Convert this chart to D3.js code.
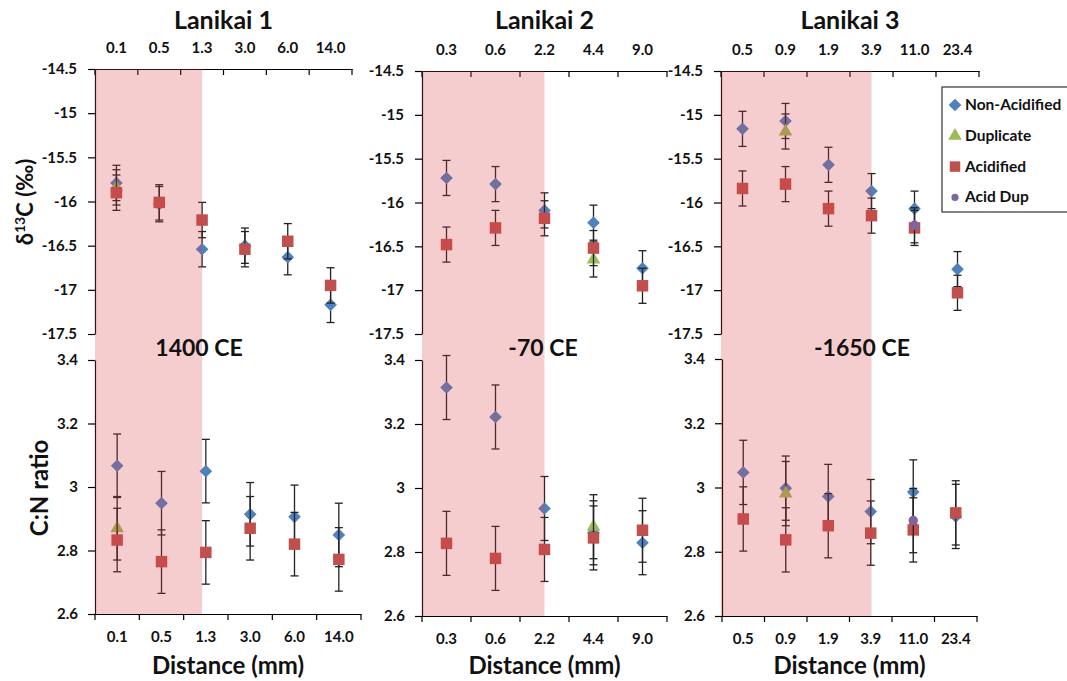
<!DOCTYPE html>
<html>
<head>
<meta charset="utf-8">
<script src="https://cdn.jsdelivr.net/npm/d3@7"></script>
<style>
  body { margin: 0; background: #fff; }
  svg { display: block; font-family: Lato, "Open Sans", "DejaVu Sans", sans-serif; }
</style>
</head>
<body>
<svg id="chart" width="1067" height="681"></svg>
<script>
// ---- data ----
const sites = ["Lanikai 1", "Lanikai 2", "Lanikai 3"];
const ages = ["1400 CE", "-70 CE", "-1650 CE"];

const cats1 = ["0.1", "0.5", "1.3", "3.0", "6.0", "14.0"];
const cats2 = ["0.3", "0.6", "2.2", "4.4", "9.0"];
const cats3 = ["0.5", "0.9", "1.9", "3.9", "11.0", "23.4"];
// last distance inside the shaded band
const shadeEnd = ["1.3", "2.2", "3.9"];

const d13cNon1 = [-15.79, -16.03, -16.54, -16.50, -16.63, -17.17];
const d13cAcid1 = [-15.90, -16.01, -16.21, -16.54, -16.45, -16.95];
const d13cDup1 = [-15.84, null, null, null, null, null];
const d13cAcidDup1 = [null, null, null, null, null, null];
const cnNon1 = [3.067, 2.949, 3.050, 2.914, 2.906, 2.849];
const cnAcid1 = [2.833, 2.765, 2.794, 2.870, 2.820, 2.772];
const cnDup1 = [2.870, null, null, null, null, null];
const cnAcidDup1 = [null, null, null, null, null, null];

const d13cNon2 = [-15.72, -15.79, -16.09, -16.23, -16.75];
const d13cAcid2 = [-16.48, -16.29, -16.18, -16.52, -16.95];
const d13cDup2 = [null, null, null, -16.65, null];
const d13cAcidDup2 = [null, null, null, null, null];
const cnNon2 = [3.314, 3.222, 2.936, 2.860, 2.829];
const cnAcid2 = [2.827, 2.780, 2.808, 2.844, 2.868];
const cnDup2 = [null, null, null, 2.879, null];
const cnAcidDup2 = [null, null, null, null, null];

const d13cNon3 = [-15.16, -15.07, -15.57, -15.87, -16.07, -16.76];
const d13cAcid3 = [-15.84, -15.79, -16.07, -16.15, -16.29, -17.03];
const d13cDup3 = [null, -15.19, null, null, null, null];
const d13cAcidDup3 = [null, null, null, null, -16.26, null];
const cnNon3 = [3.047, 2.998, 2.972, 2.925, 2.986, 2.910];
const cnAcid3 = [2.902, 2.837, 2.881, 2.858, 2.868, 2.921];
const cnDup3 = [null, 2.981, null, null, null, null];
const cnAcidDup3 = [null, null, null, null, 2.897, null];

// error bar half widths
const d13cErr = 0.2;
const cnErr = 0.1;

const d13cTicks = [-14.5, -15, -15.5, -16, -16.5, -17, -17.5];
const cnTicks = [3.4, 3.2, 3, 2.8, 2.6];

const seriesNames = ["Non-Acidified", "Duplicate", "Acidified", "Acid Dup"];
const seriesColors = ["#4F81BD", "#9BBB59", "#C0504D", "#8064A2"];

// ---- layout ----
const cols = [
  { cats: cats1, topX: [95, 352], botX: [95, 361], topY: [334, 69], botY: [614, 360], ageX: 199,
    d13c: [d13cNon1, d13cDup1, d13cAcid1, d13cAcidDup1], cn: [cnNon1, cnDup1, cnAcid1, cnAcidDup1] },
  { cats: cats2, topX: [422, 667], botX: [422, 667], topY: [334, 71], botY: [616, 360], ageX: 543,
    d13c: [d13cNon2, d13cDup2, d13cAcid2, d13cAcidDup2], cn: [cnNon2, cnDup2, cnAcid2, cnAcidDup2] },
  { cats: cats3, topX: [721, 979], botX: [722, 977], topY: [334, 71], botY: [616, 359], ageX: 862,
    d13c: [d13cNon3, d13cDup3, d13cAcid3, d13cAcidDup3], cn: [cnNon3, cnDup3, cnAcid3, cnAcidDup3] }
];

const svg = d3.select("#chart");
const FONT = 'Lato, "Open Sans", "DejaVu Sans", sans-serif';

function symbolFor(i) {
  if (i == 0) return { type: d3.symbolSquare, size: 80, rot: 45 };
  if (i == 1) return { type: d3.symbolTriangle, size: 80, rot: 0 };
  if (i == 2) return { type: d3.symbolSquare, size: 132, rot: 0 };
  return { type: d3.symbolCircle, size: 70, rot: 0 };
}

function drawChart(g, cats, xr, yr, domain, ticks, series, err, side) {
  var x = d3.scaleBand().domain(cats).range(xr).padding(0);
  var y = d3.scaleLinear().domain(domain).range(yr);

  // y axis
  var ya = g.append("g")
    .attr("transform", "translate(" + xr[0] + ",0)")
    .call(d3.axisLeft(y).tickValues(ticks).tickSize(7).tickSizeOuter(0).tickPadding(side == "top" ? 11 : 10)
      .tickFormat(function(d) { return String(d); }));
  ya.select(".domain").attr("stroke", "#000").attr("stroke-width", 1.2);
  ya.selectAll(".tick line").attr("stroke", "#000").attr("stroke-width", 1.2);
  ya.selectAll("text").attr("font-family", FONT).attr("font-size", 15).attr("font-weight", "bold").attr("fill", "#111");

  // x axis: labels centred on bands, ticks on band edges
  var axisY = side == "top" ? yr[1] : yr[0];
  var xa = g.append("g").attr("transform", "translate(0," + axisY + ")");
  if (side == "top") xa.call(d3.axisTop(x).tickSize(0).tickSizeOuter(0).tickPadding(16));
  else xa.call(d3.axisBottom(x).tickSize(0).tickSizeOuter(0).tickPadding(17));
  xa.select(".domain").attr("stroke", "#000").attr("stroke-width", 1.2);
  xa.selectAll("text").attr("font-family", FONT).attr("font-size", 15).attr("font-weight", "bold").attr("fill", "#111");
  var edges = d3.range(cats.length + 1).map(function(i) { return xr[0] + i * x.step(); });
  xa.selectAll(".edge").data(edges).enter().append("line")
    .attr("class", "edge")
    .attr("x1", function(d) { return d; }).attr("x2", function(d) { return d; })
    .attr("y1", 0).attr("y2", 6)
    .attr("stroke", "#000").attr("stroke-width", 1.2);

  // error bars then markers, series by series
  series.forEach(function(vals, si) {
    var pts = [];
    vals.forEach(function(v, i) { if (v != null) pts.push({ c: cats[i], v: v }); });
    var cx = function(d) { return x(d.c) + x.bandwidth() / 2; };

    var eb = g.append("g");
    eb.selectAll("line.stem").data(pts).enter().append("line")
      .attr("x1", cx).attr("x2", cx)
      .attr("y1", function(d) { return y(d.v + err); })
      .attr("y2", function(d) { return y(d.v - err); })
      .attr("stroke", "#222").attr("stroke-width", 1.3);
    [1, -1].forEach(function(s) {
      eb.selectAll("line.cap" + s).data(pts).enter().append("line")
        .attr("x1", function(d) { return cx(d) - 4; })
        .attr("x2", function(d) { return cx(d) + 4; })
        .attr("y1", function(d) { return y(d.v + s * err); })
        .attr("y2", function(d) { return y(d.v + s * err); })
        .attr("stroke", "#222").attr("stroke-width", 1.3);
    });

    var sym = symbolFor(si);
    g.append("g").selectAll("path").data(pts).enter().append("path")
      .attr("d", d3.symbol(sym.type).size(sym.size))
      .attr("transform", function(d) { return "translate(" + cx(d) + "," + y(d.v) + ") rotate(" + sym.rot + ")"; })
      .attr("fill", seriesColors[si]);
  });

  return { x: x, y: y };
}

cols.forEach(function(c, k) {
  var g = svg.append("g");
  var top = drawChart(g, c.cats, c.topX, c.topY, [-17.5, -14.5], d13cTicks, c.d13c, d13cErr, "top");
  var bot = drawChart(g, c.cats, c.botX, c.botY, [2.6, 3.4], cnTicks, c.cn, cnErr, "bottom");

  // translucent pink band laid over the early part of each profile
  var x0 = top.x(c.cats[0]);
  var x1 = top.x(shadeEnd[k]) + top.x.bandwidth() / 2;
  svg.append("rect")
    .attr("x", x0).attr("y", c.topY[1])
    .attr("width", x1 - x0).attr("height", c.botY[0] - c.topY[1])
    .attr("fill", "rgb(222,60,70)").attr("fill-opacity", 0.26);

  var mid = (c.topX[0] + c.topX[1]) / 2;
  svg.append("text").attr("x", mid).attr("y", 29)
    .attr("text-anchor", "middle").attr("font-size", 25).attr("font-weight", "bold").attr("fill", "#111")
    .text(sites[k]);
  svg.append("text").attr("x", c.ageX).attr("y", 356)
    .attr("text-anchor", "middle").attr("font-size", 23).attr("font-weight", "bold").attr("fill", "#111")
    .text(ages[k]);
  svg.append("text").attr("x", (c.botX[0] + c.botX[1]) / 2).attr("y", 674)
    .attr("text-anchor", "middle").attr("font-size", 24).attr("font-weight", "bold").attr("fill", "#111")
    .text("Distance (mm)");
});

// y titles
var t1 = svg.append("text")
  .attr("transform", "translate(33,202) rotate(-90)")
  .attr("text-anchor", "middle").attr("font-size", 22).attr("font-weight", "bold").attr("fill", "#111");
t1.append("tspan").text("δ");
t1.append("tspan").attr("font-size", 14).attr("dy", -8).text("13");
t1.append("tspan").attr("dy", 8).text("C (‰)");

svg.append("text")
  .attr("transform", "translate(48,488) rotate(-90)")
  .attr("text-anchor", "middle").attr("font-size", 24).attr("font-weight", "bold").attr("fill", "#111")
  .text("C:N ratio");

// legend
var lg = svg.append("g").attr("transform", "translate(942,87)");
lg.append("rect").attr("x", 0).attr("y", 0).attr("width", 140).attr("height", 125)
  .attr("fill", "#fff").attr("stroke", "#333").attr("stroke-width", 1.2);
seriesNames.forEach(function(name, i) {
  var yy = 18 + i * 30.8;
  var sym = symbolFor(i);
  var sz = i == 2 ? 110 : (i == 3 ? 40 : sym.size);
  lg.append("path")
    .attr("d", d3.symbol(sym.type).size(sz))
    .attr("transform", "translate(13," + yy + ") rotate(" + sym.rot + ")")
    .attr("fill", seriesColors[i]);
  lg.append("text").attr("x", 23).attr("y", yy + 5)
    .attr("font-size", 15.5).attr("font-weight", "bold").attr("fill", "#111")
    .text(name);
});
</script>
</body>
</html>
